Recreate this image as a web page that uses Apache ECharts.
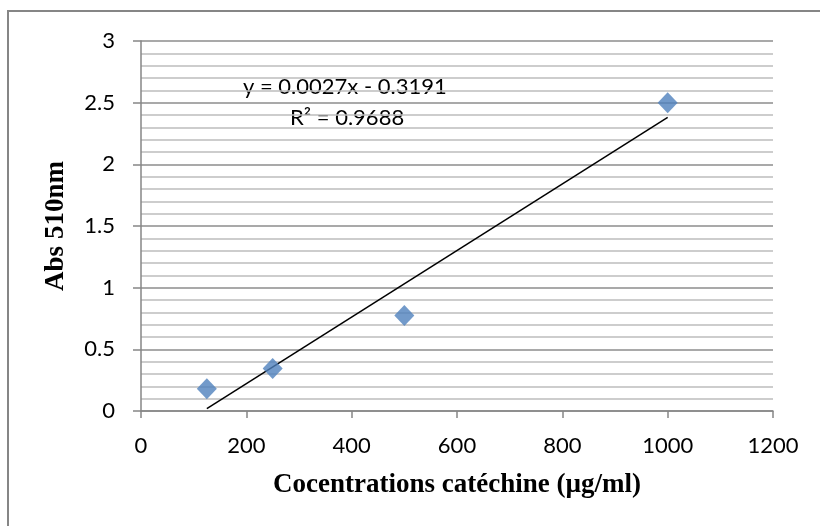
<!DOCTYPE html>
<html>
<head>
<meta charset="utf-8">
<script src="https://cdn.jsdelivr.net/npm/echarts@6/dist/echarts.min.js"></script>
<style>
html,body{margin:0;padding:0;background:#fff;}
#chart{width:820px;height:526px;}
</style>
</head>
<body>
<div id="chart"></div>
<script>
// Catechin calibration: concentration (µg/ml) vs absorbance at 510 nm
const concentrations = [125, 250, 500, 1000];
const absorbances = [0.18, 0.345, 0.775, 2.5];

// Linear trend line y = a·x + b over the measured range
const trendSlope = 0.0027;
const trendIntercept = -0.3191;
const trendRange = [125, 1000];
const equationText = 'y = 0.0027x - 0.3191';
const r2Text = 'R² = 0.9688';

const xTitle = 'Cocentrations catéchine (µg/ml)';
const yTitle = 'Abs 510nm';

const points = concentrations.map((c, i) => [c, absorbances[i]]);
const trend = trendRange.map(x => [x, trendSlope * x + trendIntercept]);

const chart = echarts.init(document.getElementById('chart'), null, {renderer: 'canvas'});
const tickFont = {fontFamily: 'Lato', fontSize: 22, color: '#000'};
const titleFont = {fontFamily: 'Liberation Serif', fontWeight: 'bold', fontSize: 27, color: '#000'};

chart.setOption({
  animation: false,
  backgroundColor: '#fff',
  grid: {left: 141, right: 47, top: 41, bottom: 115},
  xAxis: {
    type: 'value', min: 0, max: 1200, interval: 200,
    axisLine: {show: true, lineStyle: {color: '#868686', width: 1.5}},
    axisTick: {show: true, length: 7, lineStyle: {color: '#868686', width: 1.5}},
    axisLabel: Object.assign({margin: 24, formatter: v => String(v)}, tickFont),
    splitLine: {show: false},
    name: xTitle, nameLocation: 'middle', nameGap: 61,
    nameTextStyle: titleFont
  },
  yAxis: {
    type: 'value', min: 0, max: 3, interval: 0.5,
    axisLine: {show: true, lineStyle: {color: '#868686', width: 1.5}},
    axisTick: {show: true, length: 8, lineStyle: {color: '#868686', width: 1.5}},
    axisLabel: Object.assign({margin: 26, formatter: v => String(v)}, tickFont),
    splitLine: {show: true, lineStyle: {color: '#8c8c8c', width: 1.5}},
    minorTick: {show: false, splitNumber: 5},
    minorSplitLine: {show: true, lineStyle: {color: '#bdbdbd', width: 1.5}},
    name: yTitle, nameLocation: 'middle', nameGap: 71,
    nameTextStyle: titleFont
  },
  series: [
    {
      type: 'line', data: trend, symbol: 'none',
      lineStyle: {color: '#000', width: 1.5}, z: 2
    },
    {
      type: 'scatter', data: points, symbol: 'diamond', symbolSize: [20, 21],
      itemStyle: {color: '#4f81bd'}, z: 3
    }
  ],
  graphic: [
    {type: 'rect', shape: {x: 8, y: 11, width: 1000, height: 700},
     style: {fill: 'none', stroke: '#868686', lineWidth: 2}, silent: true, z: -1},
    {type: 'text', left: 243, top: 76,
     style: {text: equationText, fontFamily: 'Lato', fontSize: 22, fill: '#000'}},
    {type: 'text', left: 290, top: 107,
     style: {text: r2Text, fontFamily: 'Lato', fontSize: 22, fill: '#000'}}
  ]
});
</script>
</body>
</html>
